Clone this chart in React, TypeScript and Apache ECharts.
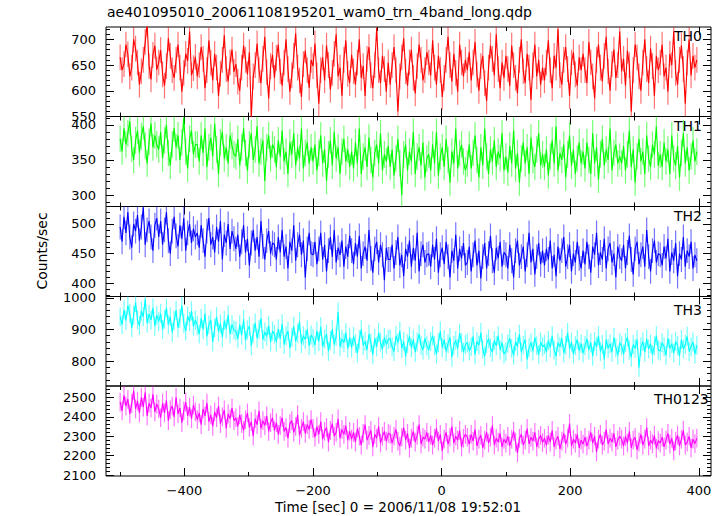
import React, { useEffect, useRef } from "react";
import * as echarts from "echarts";

// ---------- DATA (3 s bins starting at -500 s) ----------
const T_START = -500;
const T_BIN = 3;

const TH0 = [
  665,640,652,690,671,628,645,700,682,655,612,638,660,695,730,648,622,670,688,641,
  655,679,632,610,648,702,668,640,625,660,690,645,598,635,672,658,715,630,644,666,
  628,650,685,662,605,640,698,655,620,672,645,590,633,660,708,642,618,655,680,637,
  652,618,600,645,688,660,632,675,548,628,650,692,640,615,662,705,636,585,648,670,
  625,664,690,638,610,655,700,642,598,630,668,712,645,620,588,652,678,640,606,660,
  648,692,630,575,640,665,620,688,650,602,635,672,710,628,645,590,660,698,633,615,
  670,638,612,655,700,625,648,590,662,685,630,605,650,722,640,615,668,642,598,655,
  612,650,685,640,560,628,665,702,638,610,655,680,625,595,648,690,660,620,640,675,
  655,630,698,645,612,668,640,588,625,660,705,650,618,672,635,598,690,655,628,660,
  640,675,620,655,695,632,600,648,668,615,580,645,688,662,630,710,642,605,655,625,
  668,642,610,688,650,625,595,660,700,638,615,672,645,582,650,690,628,660,612,645,
  620,655,698,640,605,668,645,720,630,612,660,685,642,590,655,675,632,610,665,640,
  672,640,615,695,655,628,585,660,690,645,618,668,705,638,600,652,680,625,650,715,
  638,662,610,678,650,560,640,690,665,628,600,655,700,642,615,682,648,590,668,640,
  655,690,628,645,598,672,650,715,635,612,660,688,642,575,655,700,630,668,645,660,
];
const TH1 = [
  380,362,395,372,388,405,366,350,378,392,360,384,398,370,345,376,402,368,385,372,
  365,390,352,378,400,360,342,372,395,368,385,350,375,410,362,338,380,392,358,372,
  372,348,385,360,395,340,368,382,355,402,365,330,375,390,352,368,345,385,370,358,
  355,380,342,368,395,360,335,372,388,350,365,398,345,362,378,320,368,385,352,372,
  365,340,378,355,392,348,362,330,375,358,388,342,368,352,395,338,360,375,345,368,
  348,372,335,360,385,345,365,320,358,378,342,390,352,368,330,362,380,348,365,340,
  362,338,375,345,395,330,355,368,340,382,350,325,360,372,345,388,335,358,348,370,
  340,365,328,352,380,345,300,358,372,335,362,348,390,330,355,368,342,375,325,352,
  358,335,372,345,390,328,355,368,340,380,350,318,362,345,395,338,360,372,348,335,
  345,372,338,360,385,350,325,368,342,395,355,330,365,348,378,340,362,352,388,335,
  355,332,370,345,392,338,360,318,352,375,345,368,330,382,350,340,365,388,342,358,
  340,365,328,355,378,345,398,335,360,350,372,325,358,385,342,365,330,352,375,345,
  362,338,375,350,330,388,345,368,322,358,380,342,365,350,395,335,360,372,345,355,
  345,370,335,358,392,340,365,318,355,380,348,362,330,385,352,340,372,358,398,342,
  358,340,375,348,365,330,385,352,342,370,325,360,388,345,368,335,355,378,348,362,
];
const TH2 = [
  495,470,512,485,520,478,460,500,488,515,472,495,528,465,490,505,478,455,498,510,
  478,505,465,490,520,472,450,488,512,480,462,498,475,510,455,485,500,468,492,478,
  485,460,498,472,445,488,510,465,478,452,495,470,505,440,482,468,500,458,488,475,
  458,482,445,470,498,452,475,430,468,490,455,478,445,505,462,440,472,488,450,468,
  465,440,478,452,490,445,462,425,470,455,498,438,465,482,448,472,410,458,485,450,
  448,470,432,458,485,440,465,420,455,478,445,490,435,460,448,472,428,462,445,480,
  455,432,468,445,480,425,450,462,438,490,442,418,458,470,435,465,448,405,460,440,
  440,465,425,452,478,430,448,412,458,445,472,428,460,438,485,420,450,465,435,448,
  450,428,465,440,475,418,448,460,432,470,445,410,455,438,482,425,458,442,468,430,
  435,462,420,448,472,430,455,408,445,468,425,450,480,438,418,460,442,470,428,452,
  448,425,465,438,410,455,472,430,445,462,420,448,485,435,458,415,445,468,432,455,
  430,458,440,472,425,448,412,462,438,455,478,428,445,465,420,450,435,470,442,425,
  455,432,470,445,418,462,448,485,430,452,440,475,425,458,468,435,450,410,462,445,
  438,465,425,452,480,440,415,458,470,432,448,462,428,490,445,420,455,472,435,450,
  448,430,462,442,475,420,452,438,468,412,450,440,478,428,455,445,470,425,448,438,
];
const TH3 = [
  940,915,962,928,975,950,905,945,985,930,912,958,940,995,920,948,930,968,910,945,
  925,950,900,932,968,915,940,890,928,960,905,935,975,918,895,942,925,958,910,930,
  912,885,935,900,950,878,915,930,860,905,940,892,918,875,928,902,945,885,915,898,
  895,870,915,882,932,865,898,910,848,888,920,872,900,935,868,892,878,912,860,895,
  885,860,902,870,918,852,880,895,840,875,910,862,888,925,855,880,868,900,848,882,
  872,850,895,862,908,845,870,885,830,865,900,852,878,955,845,870,858,890,840,875,
  842,878,855,825,868,900,850,862,835,885,858,820,872,845,890,860,838,875,852,868,
  870,845,830,880,858,895,840,862,815,855,878,842,868,828,860,885,850,835,872,848,
  835,862,880,848,822,858,895,842,868,830,855,875,812,850,865,840,888,858,828,852,
  858,832,845,878,820,862,850,890,838,815,855,870,842,828,865,848,880,835,858,822,
  830,855,872,840,818,862,845,885,828,850,868,805,842,858,832,875,848,820,860,845,
  852,828,865,842,880,835,815,858,845,872,825,850,890,838,860,822,848,868,832,855,
  825,848,870,835,858,815,862,845,880,830,852,805,868,840,855,828,875,842,818,858,
  848,822,858,875,835,812,852,840,868,780,845,862,828,870,838,855,820,848,880,835,
  832,858,845,818,872,840,855,825,862,848,815,868,838,852,878,830,845,860,822,850,
];
const TH0123 = [
  2475,2430,2510,2455,2490,2415,2468,2535,2440,2480,2420,2500,2450,2525,2405,2470,2445,2515,2425,2465,
  2440,2395,2470,2420,2485,2380,2435,2455,2400,2500,2415,2445,2370,2430,2475,2405,2450,2390,2460,2425,
  2385,2420,2360,2440,2405,2470,2375,2410,2350,2425,2395,2455,2365,2400,2435,2340,2415,2390,2445,2380,
  2395,2350,2410,2365,2330,2385,2420,2345,2375,2300,2390,2360,2430,2340,2380,2355,2405,2325,2370,2395,
  2330,2370,2310,2355,2395,2325,2345,2290,2365,2380,2320,2350,2410,2305,2340,2375,2315,2360,2335,2385,
  2340,2295,2350,2310,2375,2285,2325,2345,2270,2330,2365,2300,2320,2390,2290,2335,2310,2355,2280,2325,
  2285,2320,2270,2340,2300,2255,2315,2360,2280,2305,2330,2245,2310,2290,2350,2265,2300,2325,2275,2315,
  2310,2265,2300,2335,2275,2250,2295,2345,2280,2315,2240,2290,2325,2270,2305,2360,2260,2295,2285,2320,
  2270,2305,2255,2290,2340,2275,2310,2225,2285,2320,2260,2295,2350,2265,2300,2280,2330,2245,2290,2310,
  2295,2260,2310,2275,2335,2250,2285,2305,2240,2280,2320,2265,2295,2355,2255,2290,2270,2315,2245,2285,
  2265,2300,2250,2285,2325,2270,2215,2290,2310,2255,2280,2340,2260,2295,2275,2320,2245,2285,2305,2268,
  2290,2255,2305,2270,2330,2245,2280,2300,2235,2275,2315,2260,2290,2365,2250,2285,2265,2310,2240,2280,
  2260,2295,2250,2280,2320,2265,2300,2220,2285,2310,2255,2275,2335,2260,2290,2270,2315,2245,2280,2300,
  2285,2250,2300,2265,2325,2240,2280,2295,2230,2270,2310,2255,2285,2345,2250,2280,2262,2305,2238,2278,
  2265,2295,2245,2280,2315,2260,2290,2225,2275,2305,2250,2285,2330,2255,2270,2300,2240,2285,2262,2290,
];

// approximate 1-sigma error bar half-widths per band
const ERR = { TH0: 25, TH1: 19, TH2: 21, TH3: 30, TH0123: 48 };

// tick labels
const X_MAJOR = [-400, -200, 0, 200, 400];
const X_MINOR = [-500, -300, -100, 100, 300];
const TH0_TICKS = [550, 600, 650, 700];
const TH1_TICKS = [300, 350, 400];
const TH2_TICKS = [400, 450, 500];
const TH3_TICKS = [800, 900, 1000];
const TH0123_TICKS = [2100, 2200, 2300, 2400, 2500];

const TITLE = "ae401095010_20061108195201_wam0_trn_4band_long.qdp";
const X_TITLE = "Time [sec] 0 = 2006/11/08 19:52:01";
const Y_TITLE = "Counts/sec";

// ---------- LAYOUT / STYLE ----------
const FONT = "DejaVu Sans, Verdana, sans-serif";
const GRID_TOP = [27, 116.5, 206.5, 296.5, 386];
const GRID_H = [89.5, 90, 90, 89.5, 90];
const X_MIN = -522;
const X_MAX = 419;

const minorRange = (lo: number, hi: number, step: number, majors: number[]) => {
  const out: number[] = [];
  for (let v = Math.ceil(lo / step) * step; v <= hi; v += step) {
    if (!majors.includes(v)) out.push(v);
  }
  return out;
};

const PANELS = [
  { name: "TH0", values: TH0, err: ERR.TH0, color: "#ff0000", bar: "rgba(255,0,0,0.55)", min: 550, max: 724, ticks: TH0_TICKS, minorStep: 10, labelX: 674, labelY: 37.5 },
  { name: "TH1", values: TH1, err: ERR.TH1, color: "#00ff00", bar: "rgba(0,255,0,0.55)", min: 283.6, max: 412, ticks: TH1_TICKS, minorStep: 10, labelX: 674, labelY: 127.5 },
  { name: "TH2", values: TH2, err: ERR.TH2, color: "#0000ff", bar: "rgba(0,0,255,0.55)", min: 377.7, max: 529.5, ticks: TH2_TICKS, minorStep: 10, labelX: 674, labelY: 217.6 },
  { name: "TH3", values: TH3, err: ERR.TH3, color: "#00ffff", bar: "rgba(0,255,255,0.55)", min: 721, max: 1004, ticks: TH3_TICKS, minorStep: 20, labelX: 674, labelY: 311.7 },
  { name: "TH0123", values: TH0123, err: ERR.TH0123, color: "#ff00ff", bar: "rgba(255,0,255,0.55)", min: 2096, max: 2558, ticks: TH0123_TICKS, minorStep: 20, labelX: 654, labelY: 400 },
];

const fmtX = (v: number) => (v < 0 ? "\u2212" + Math.abs(v) : String(v));
const fmtY = (v: number) => String(v);

function buildOption() {
  const grid: any[] = [];
  const xAxis: any[] = [];
  const yAxis: any[] = [];
  const series: any[] = [];
  const graphic: any[] = [];

  PANELS.forEach((p, i) => {
    grid.push({
      left: 106, right: 12, top: GRID_TOP[i], height: GRID_H[i],
      show: true, borderColor: "#000", borderWidth: 1, backgroundColor: "transparent",
      containLabel: false,
    });
    const isLast = i === PANELS.length - 1;
    const xBase = {
      type: "value", gridIndex: i, min: X_MIN, max: X_MAX,
      axisLine: { show: false, onZero: false }, splitLine: { show: false },
    };
    const xDefs = [
      { pos: "bottom", vals: X_MAJOR, len: 8, label: isLast },
      { pos: "bottom", vals: X_MINOR, len: 4, label: false },
      { pos: "top", vals: X_MAJOR, len: 8, label: false },
      { pos: "top", vals: X_MINOR, len: 4, label: false },
    ];
    xDefs.forEach((d) => {
      xAxis.push({
        ...xBase,
        position: d.pos,
        axisTick: { show: true, inside: true, length: d.len, customValues: d.vals, lineStyle: { color: "#000", width: 1 } },
        axisLabel: {
          show: d.label, customValues: d.vals, formatter: fmtX,
          fontSize: 13, color: "#000", fontFamily: FONT, margin: 8,
        },
      });
    });

    const minors = minorRange(p.min, p.max, p.minorStep, p.ticks);
    const yBase = {
      type: "value", gridIndex: i, min: p.min, max: p.max,
      axisLine: { show: false, onZero: false }, splitLine: { show: false },
    };
    const yDefs = [
      { pos: "left", vals: p.ticks, len: 8, label: true },
      { pos: "left", vals: minors, len: 4, label: false },
      { pos: "right", vals: p.ticks, len: 8, label: false },
      { pos: "right", vals: minors, len: 4, label: false },
    ];
    yDefs.forEach((d) => {
      yAxis.push({
        ...yBase,
        position: d.pos,
        axisTick: { show: true, inside: true, length: d.len, customValues: d.vals, lineStyle: { color: "#000", width: 1 } },
        axisLabel: {
          show: d.label, customValues: d.vals, formatter: fmtY,
          fontSize: 13, color: "#000", fontFamily: FONT, margin: 10,
        },
      });
    });

    const data = p.values.map((v, k) => [T_START + k * T_BIN, v]);
    const err = p.err;
    const barColor = p.bar;
    series.push({
      type: "custom",
      name: p.name + " err",
      xAxisIndex: i * 4,
      yAxisIndex: i * 4,
      clip: true,
      silent: true,
      data,
      renderItem: (_params: any, api: any) => {
        const x = api.value(0);
        const y = api.value(1);
        const a = api.coord([x, y + err]);
        const b = api.coord([x, y - err]);
        return {
          type: "line",
          shape: { x1: a[0], y1: a[1], x2: b[0], y2: b[1] },
          style: { stroke: barColor, lineWidth: 1.2 },
        };
      },
    });
    series.push({
      type: "line",
      name: p.name,
      xAxisIndex: i * 4,
      yAxisIndex: i * 4,
      data,
      showSymbol: false,
      symbol: "none",
      clip: true,
      lineStyle: { color: p.color, width: 1.1 },
      silent: true,
    });

    graphic.push({
      type: "text", left: p.labelX, top: p.labelY - 8.5,
      style: { text: p.name, fontSize: 14, fill: "#000", fontFamily: FONT },
      silent: true,
    });
  });

  graphic.push({
    type: "text", left: 107, top: 5,
    style: { text: TITLE, fontSize: 14, fill: "#000", fontFamily: FONT },
  });
  graphic.push({
    type: "text", x: 398, y: 507,
    style: { text: X_TITLE, fontSize: 13.5, fill: "#000", fontFamily: FONT, textAlign: "center", textVerticalAlign: "middle" },
  });
  graphic.push({
    type: "text", x: 42, y: 251, rotation: Math.PI / 2,
    style: { text: Y_TITLE, fontSize: 14, fill: "#000", fontFamily: FONT, textAlign: "center", textVerticalAlign: "middle" },
  });

  return {
    animation: false,
    backgroundColor: "#fff",
    grid, xAxis, yAxis, series, graphic,
  };
}

export default function App() {
  const ref = useRef<HTMLDivElement>(null);
  useEffect(() => {
    document.body.style.margin = "0";
    if (!ref.current) return;
    const chart = echarts.init(ref.current, undefined, { renderer: "svg" });
    chart.setOption(buildOption() as any);
    return () => chart.dispose();
  }, []);
  return (
    <div
      ref={ref}
      style={{ position: "fixed", left: 0, top: 0, width: 723, height: 516 }}
    />
  );
}
